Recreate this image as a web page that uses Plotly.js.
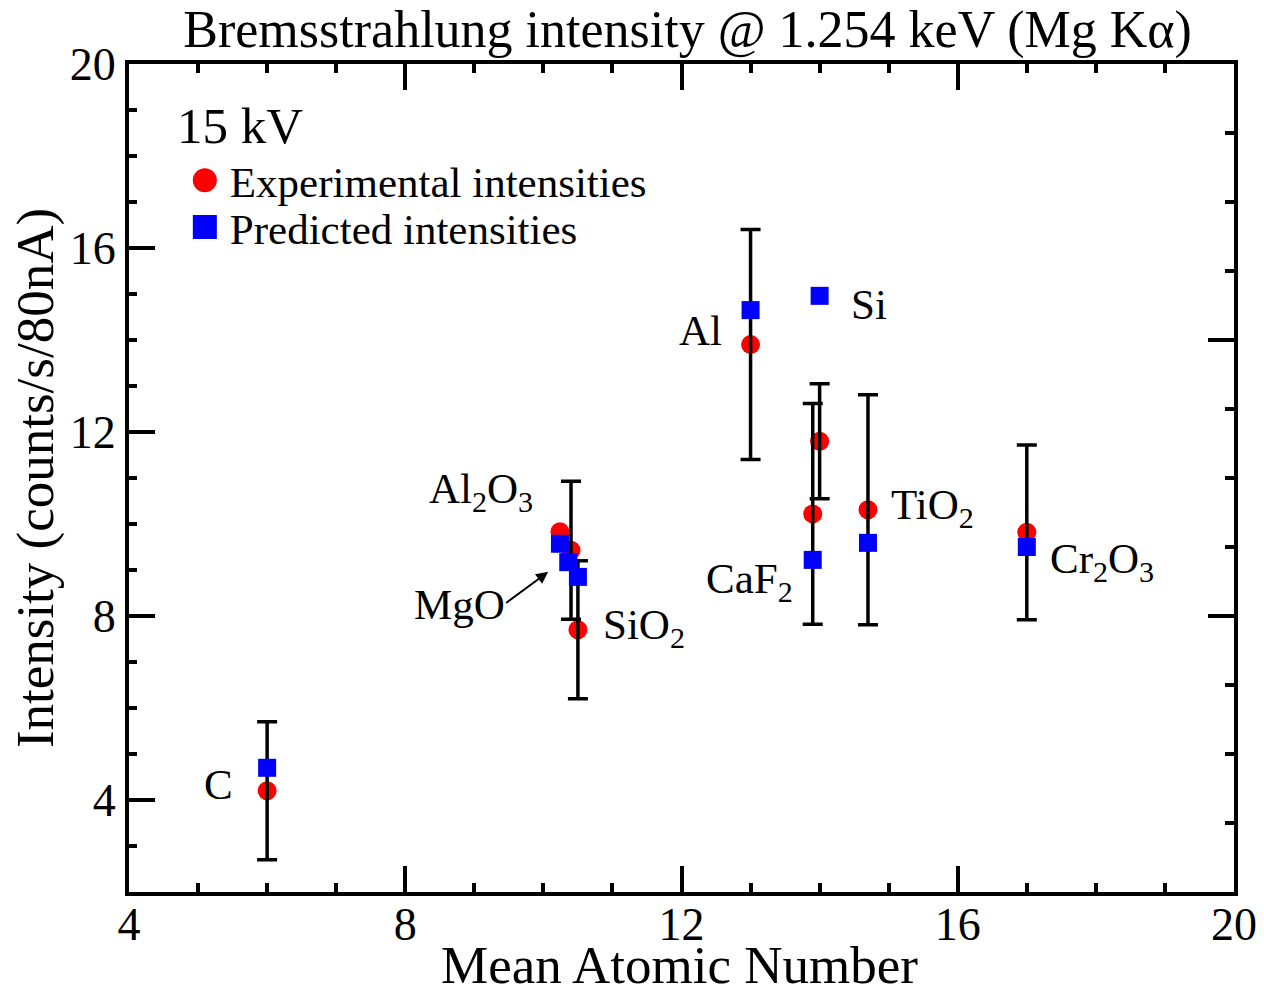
<!DOCTYPE html>
<html>
<head>
<meta charset="utf-8">
<script src="https://cdn.plot.ly/plotly-3.0.1.min.js"></script>
<style>html,body{margin:0;padding:0;background:#fff;}#chart{width:1264px;height:987px;}</style>
</head>
<body>
<div id="chart"></div>
<script>
// Data
const materials   = ["C", "Al2O3", "MgO", "SiO2", "Al", "CaF2", "Si", "TiO2", "Cr2O3"];
const meanZ       = [6.0, 10.24, 10.4, 10.5, 13.0, 13.9, 14.0, 14.7, 17.0];
const expIntens   = [4.2, 9.83, 9.43, 7.7, 13.9, 10.22, 11.8, 10.31, 9.82];
const expError    = [1.5, null, 1.5, 1.5, 2.5, 2.4, 1.25, 2.5, 1.9];
const predZ       = [6.0, 10.24, 10.36, 10.5, 13.0, 13.9, 14.0, 14.7, 17.0];
const predIntens  = [4.7, 9.57, 9.17, 8.85, 14.65, 9.22, 14.96, 9.59, 9.5];

const labelText = ["C", "Al<sub>2</sub>O<sub>3</sub>", "MgO", "SiO<sub>2</sub>", "Al", "CaF<sub>2</sub>", "Si", "TiO<sub>2</sub>", "Cr<sub>2</sub>O<sub>3</sub>"];
const labelX    = [5.29, 9.1, 8.79, 11.46, 12.27, 12.98, 14.72, 15.64, 18.09];
const labelY    = [4.33, 10.7, 8.24, 7.74, 14.2, 8.74, 14.78, 10.35, 9.17];
// MgO arrow: tail -> head
const arrowTail = [9.44, 8.26];
const arrowHead = [10.07, 8.96];

const FONT = "Liberation Serif, Times New Roman, serif";

const errX = [], errY = [], errV = [];
for (let i = 0; i < meanZ.length; i++) {
  if (expError[i] !== null) { errX.push(meanZ[i]); errY.push(expIntens[i]); errV.push(expError[i]); }
}

const traces = [
  {
    x: meanZ, y: expIntens, type: "scatter", mode: "markers",
    name: "Experimental intensities", legend: "legend",
    marker: {symbol: "circle", size: 19, color: "#ff0000"}
  },
  {
    x: errX, y: errY, type: "scatter", mode: "markers", showlegend: false,
    marker: {size: 1, color: "rgba(0,0,0,0)"},
    error_y: {type: "data", array: errV, visible: true, color: "#000000", thickness: 3.5, width: 10}
  },
  {
    x: predZ, y: predIntens, type: "scatter", mode: "markers",
    name: "Predicted intensities", legend: "legend2",
    marker: {symbol: "square", size: 18, color: "#0000ff"}
  },
  { x: [], y: [], yaxis: "y2", type: "scatter", showlegend: false }
];

const annotations = labelText.map((t, i) => ({
  x: labelX[i], y: labelY[i], xref: "x", yref: "y", text: t, showarrow: false,
  font: {family: FONT, size: 43, color: "#000"}, xanchor: "center", yanchor: "middle"
}));
annotations.push({
  x: arrowHead[0], y: arrowHead[1], ax: arrowTail[0], ay: arrowTail[1],
  xref: "x", yref: "y", axref: "x", ayref: "y", text: "", showarrow: true,
  arrowhead: 2, arrowsize: 1.2, arrowwidth: 2, arrowcolor: "#000"
});
annotations.push({
  x: 0.1, y: 0.925, xref: "paper", yref: "paper", text: "15 kV", showarrow: false,
  font: {family: FONT, size: 51, color: "#000"}, xanchor: "center", yanchor: "middle"
});
// x-axis title (as annotation so it can sit where the reference puts it)
annotations.push({
  x: 0.4985, y: -0.0882, xref: "paper", yref: "paper", text: "Mean Atomic Number", showarrow: false,
  font: {family: FONT, size: 53, color: "#000"}, xanchor: "center", yanchor: "middle"
});

const legendCommon = {
  x: 0.046, xanchor: "left", yanchor: "middle", bgcolor: "rgba(0,0,0,0)",
  font: {family: FONT, size: 43, color: "#000"}, itemwidth: 40
};

const layout = {
  width: 1264, height: 987,
  margin: {l: 129, r: 30, t: 64, b: 95},
  paper_bgcolor: "#fff", plot_bgcolor: "#fff",
  font: {family: FONT, color: "#000"},
  title: {text: "Bremsstrahlung intensity @ 1.254 keV (Mg K\u03b1)", font: {family: FONT, size: 52, color: "#000"},
          x: 0.544, xanchor: "center", y: 0.971, yanchor: "middle"},
  showlegend: true,
  legend: Object.assign({y: 0.8596}, legendCommon),
  legend2: Object.assign({y: 0.8032}, legendCommon),
  xaxis: {
    range: [4, 20], dtick: 4, tick0: 4, ticks: "inside", ticklen: 26, tickwidth: 4, tickcolor: "#000",
    minor: {dtick: 1, ticks: "inside", ticklen: 9, tickwidth: 4, tickcolor: "#000"},
    showline: true, linewidth: 4, linecolor: "#000", mirror: "ticks",
    showgrid: false, zeroline: false, ticklabelstandoff: -11,
    tickfont: {family: FONT, size: 46, color: "#000"}
  },
  yaxis: {
    range: [2, 20], dtick: 4, tick0: 0, ticks: "inside", ticklen: 26, tickwidth: 4, tickcolor: "#000",
    minor: {dtick: 1, ticks: "inside", ticklen: 8, tickwidth: 4, tickcolor: "#000"},
    showline: true, linewidth: 4, linecolor: "#000", mirror: true,
    showgrid: false, zeroline: false,
    tickfont: {family: FONT, size: 46, color: "#000"},
    title: {text: "Intensity (counts/s/80nA)", font: {family: FONT, size: 53, color: "#000"}, standoff: 0}
  },
  yaxis2: {
    overlaying: "y", side: "right", anchor: "x", range: [0, 12], dtick: 4, tick0: 0,
    ticks: "inside", ticklen: 26, tickwidth: 4, tickcolor: "#000",
    minor: {dtick: 1, ticks: "inside", ticklen: 9, tickwidth: 4, tickcolor: "#000"},
    showticklabels: false, showline: false, showgrid: false, zeroline: false
  },
  annotations: annotations
};

Plotly.newPlot("chart", traces, layout, {displayModeBar: false, staticPlot: true}).then(function (gd) {
  // enlarge legend symbols (Plotly caps legend marker size)
  gd.querySelectorAll(".legendpoints path.scatterpts").forEach(function (p) {
    const t = p.getAttribute("transform") || "";
    p.setAttribute("transform", t + " scale(1.5)");
  });
});
</script>
</body>
</html>
